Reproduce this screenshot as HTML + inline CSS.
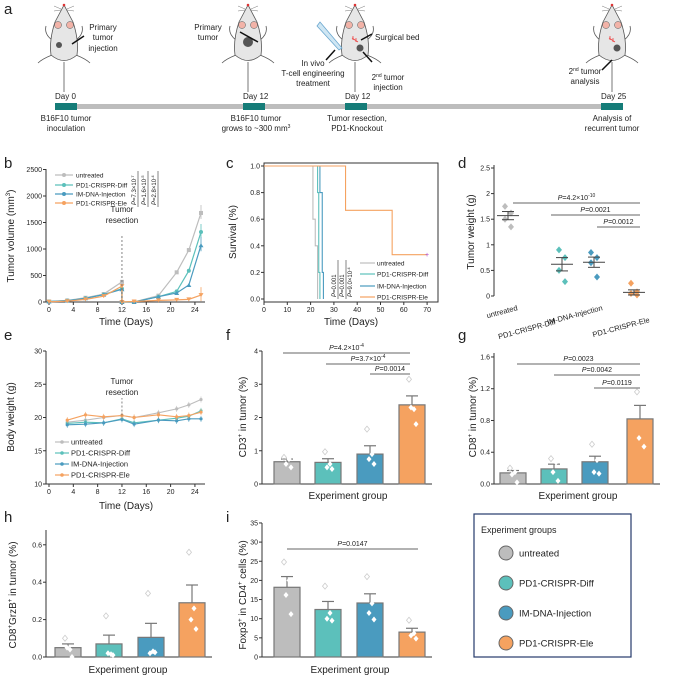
<!DOCTYPE html>
<html><head><meta charset="utf-8"><style>
body{margin:0;background:#fff}
svg{display:block;font-family:"Liberation Sans",sans-serif}
</style></head><body>
<svg id="s" width="674" height="677" viewBox="0 0 674 677" xmlns="http://www.w3.org/2000/svg"></svg>
<script>
const S=document.getElementById('s');let h='';
const C={u:'#bdbdbd',d:'#5cc0bb',i:'#4a9bbf',e:'#f5a260'};
function t(x,y,s,o={}){h+=`<text x="${x}" y="${y}" font-size="${o.fs||8}" fill="${o.c||'#222'}" text-anchor="${o.a||'start'}" ${o.r!=null?`transform="rotate(${o.r} ${x} ${y})"`:''} ${o.st||''}>${s}</text>`;}
function l(x1,y1,x2,y2,c='#333',w=1,ex=''){h+=`<line x1="${x1}" y1="${y1}" x2="${x2}" y2="${y2}" stroke="${c}" stroke-width="${w}" ${ex}/>`;}
function r(x,y,w,hh,f,ex=''){h+=`<rect x="${x}" y="${y}" width="${w}" height="${hh}" fill="${f}" ${ex}/>`;}
function pl(pts,c,w=1.2,ex=''){h+=`<polyline points="${pts.map(p=>p.join(',')).join(' ')}" fill="none" stroke="${c}" stroke-width="${w}" ${ex}/>`;}
function lab(x,y,s){t(x,y,s,{fs:15});}
// ---- panel a
lab(4,14,'a');
function mouse(cx,tum,scar){
 h+=`<g stroke="#555" stroke-width="0.8" fill="#e6e6e6">`;
 h+=`<path d="M${cx-12},40 q-8,-6 -6,-14 M${cx+12},40 q8,-6 6,-14 M${cx-12},55 q-10,4 -14,8 M${cx+12},55 q10,4 14,8" fill="none"/>`;
 h+=`<path d="M${cx},5 L${cx-9},22 Q${cx-15},40 ${cx-13},55 Q${cx},66 ${cx+13},55 Q${cx+15},40 ${cx+9},22 Z"/>`;
 h+=`<path d="M${cx},62 L${cx},92" fill="none"/></g>`;
 h+=`<circle cx="${cx-6}" cy="25" r="3.5" fill="#f2b3a8" stroke="#555" stroke-width=".5"/><circle cx="${cx+6}" cy="25" r="3.5" fill="#f2b3a8" stroke="#555" stroke-width=".5"/><circle cx="${cx}" cy="5" r="1.3" fill="#d33"/>`;
 h+=`<path d="M${cx-3},9 l-7,-3 M${cx-3},10 l-7,1 M${cx+3},9 l7,-3 M${cx+3},10 l7,1" stroke="#777" stroke-width=".5"/>`;
 if(tum)h+=`<circle cx="${cx+tum[0]}" cy="${tum[1]}" r="${tum[2]}" fill="#555"/>`;
 if(scar)h+=`<path d="M${cx-3},38 l6,4 M${cx-2},36 l0,4 M${cx+1},38 l0,4" stroke="#e44" stroke-width=".8"/>`;
}
mouse(64,[-5,45,3]);mouse(248,[0,42,5]);mouse(355,[5,48,3.5],1);mouse(612,[5,48,3.5],1);
l(72,44,84,36,'#111',1.5);l(258,42,240,32,'#111',1.5);l(361,40,372,34,'#111',1.5);l(363,52,372,62,'#111',1.5);l(335,50,326,60,'#111',1.5);l(612,60,602,70,'#111',1.5);
h+=`<path d="M320,22 L342,48 L339,50 L317,26 Z" fill="#cfe6f3" stroke="#6aa7cf" stroke-width=".8"/>`;
const A={fs:8,a:'middle'};
t(103,30,'Primary',A);t(103,40,'tumor',A);t(103,51,'injection',A);
t(208,30,'Primary',A);t(208,40,'tumor',A);
t(375,40,'Surgical bed');
t(313,66,'In vivo',A);t(313,76,'T-cell engineering',A);t(313,86,'treatment',A);
t(388,80,'2<tspan font-size="5" dy="-3">nd</tspan><tspan dy="3"> tumor</tspan>',A);t(388,90,'injection',A);
t(585,74,'2<tspan font-size="5" dy="-3">nd</tspan><tspan dy="3"> tumor</tspan>',A);t(585,84,'analysis',A);
r(55,104,568,5,'#bdbdbd');[55,243,345,601].forEach(x=>r(x,103,22,7,'#157c78'));
t(55,99,'Day 0');t(243,99,'Day 12');t(345,99,'Day 12');t(601,99,'Day 25');
t(66,121,'B16F10 tumor',A);t(66,131,'inoculation',A);
t(256,121,'B16F10 tumor',A);t(256,131,'grows to ~300 mm<tspan font-size="5" dy="-3">3</tspan>',A);
t(357,121,'Tumor resection,',A);t(357,131,'PD1-Knockout',A);
t(612,121,'Analysis of',A);t(612,131,'recurrent tumor',A);
function yaxis(x,y0,y1,ticks,fy,fs=7){l(x,y0,x,y1);ticks.forEach(v=>{const y=fy(v);l(x-3,y,x,y);t(x-4,y+2.5,v,{fs:fs,a:'end'});});}
// ---- panel b
lab(4,168,'b');
const bx=d=>49+d*6.08,by=v=>302-v*0.053;
yaxis(46,169,302,[0,500,1000,1500,2000,2500],by);l(46,302,205,302);
[0,4,8,12,16,20,24].forEach(d=>{l(bx(d),302,bx(d),305);t(bx(d),312,d,{fs:7,a:'middle'});});
t(126,325,'Time (Days)',{fs:10,a:'middle'});
t(14,236,'Tumor volume (mm<tspan font-size="6" dy="-4">3</tspan><tspan dy="4">)</tspan>',{fs:10,a:'middle',r:-90});
const pre=[0,3,6,9,12],post=[14,18,21,23,25];
const B={u:[[10,30,80,150,380],[0,120,560,980,1680]],d:[[10,25,70,140,250],[0,100,200,590,1320]],i:[[10,25,70,140,240],[0,100,170,320,1070]],e:[[5,15,50,110,300],[10,30,40,50,130]]};
for(const k in B){const a=pre.map((d,j)=>[bx(d),by(B[k][0][j])]);a.push([bx(12),by(0)]);pl(a,C[k]);
 const b2=post.map((d,j)=>[bx(d),by(B[k][1][j])]);b2.unshift([bx(12),302]);pl(b2,C[k]);
 b2.concat(a).forEach(p=>{if(k=='e')h+=`<path d="M${p[0]-2.5},${p[1]-2} h5 l-2.5,4z" fill="${C[k]}"/>`;else if(k=='i')h+=`<path d="M${p[0]-2.5},${p[1]+2} h5 l-2.5,-4z" fill="${C[k]}"/>`;else if(k=='d')h+=`<circle cx="${p[0]}" cy="${p[1]}" r="2" fill="${C[k]}"/>`;else r(p[0]-2,p[1]-2,4,4,C[k]);});
 const last=b2[b2.length-1];l(last[0],last[1]-8,last[0],last[1]+6,C[k],.8);}
l(bx(12),302,bx(12),236,'#666',.8,'stroke-dasharray="2,2"');
t(bx(12),212,'Tumor',{fs:8,a:'middle'});t(bx(12),223,'resection',{fs:8,a:'middle'});
[['untreated','u',175],['PD1-CRISPR-Diff','d',185],['IM-DNA-Injection','i',194],['PD1-CRISPR-Ele','e',203]].forEach(([n,k,y])=>{l(55,y,73,y,C[k],1.2);h+=`<circle cx="64" cy="${y}" r="2" fill="${C[k]}"/>`;t(76,y+2.5,n,{fs:6.5});});
t(136,205,'<tspan font-style="italic">P</tspan>=7.3×10<tspan font-size="4" dy="-2">-7</tspan>',{fs:6,r:-90});l(138,207,138,171,'#333',.6);
t(146,205,'<tspan font-style="italic">P</tspan>=1.6×10<tspan font-size="4" dy="-2">-5</tspan>',{fs:6,r:-90});l(148,207,148,171,'#333',.6);
t(156,205,'<tspan font-style="italic">P</tspan>=2.8×10<tspan font-size="4" dy="-2">-4</tspan>',{fs:6,r:-90});l(158,207,158,171,'#333',.6);
// ---- panel c
lab(226,168,'c');
const cx_=d=>264+d*2.33,cy_=v=>299-v*133;
h+=`<rect x="264" y="163" width="174" height="139" fill="none" stroke="#333" stroke-width="1"/>`;
[0,0.2,0.4,0.6,0.8,1.0].forEach(v=>{l(261,cy_(v),264,cy_(v));t(260,cy_(v)+2.5,v.toFixed(1),{fs:7,a:'end'});});
[0,10,20,30,40,50,60,70].forEach(d=>{l(cx_(d),302,cx_(d),305);t(cx_(d),312,d,{fs:7,a:'middle'});});
t(351,325,'Time (Days)',{fs:10,a:'middle'});t(236,232,'Survival (%)',{fs:10,a:'middle',r:-90});
function step(ar,c){const p=[];let v=1;p.push([cx_(0),cy_(1)]);ar.forEach(([d,nv])=>{p.push([cx_(d),cy_(v)]);p.push([cx_(d),cy_(nv)]);v=nv;});pl(p,c,1.1);}
step([[21,0.6],[22,0.4],[23,0]],C.u);step([[23,0.8],[23.5,0.2],[24,0]],C.d);step([[24,0.8],[25,0.2],[25.5,0]],C.i);
step([[35,0.667],[55,0.333],[70,0.333]],C.e);t(cx_(70),cy_(.333)+2.5,'+',{fs:7,c:'#a4c',a:'middle'});
[['untreated','u',263],['PD1-CRISPR-Diff','d',274],['IM-DNA-Injection','i',286],['PD1-CRISPR-Ele','e',297]].forEach(([n,k,y])=>{l(360,y,375,y,C[k],1.2);t(377,y+2.5,n,{fs:6.5});});
t(336,297,'<tspan font-style="italic">P</tspan>=0.001',{fs:6,r:-90});l(338,299,338,260,'#333',.6);
t(344,297,'<tspan font-style="italic">P</tspan>=0.001',{fs:6,r:-90});l(346,299,346,260,'#333',.6);
t(352,297,'<tspan font-style="italic">P</tspan>=9.0×10<tspan font-size="4" dy="-2">-4</tspan>',{fs:6,r:-90});
// ---- panel d
lab(458,168,'d');
const dy=v=>296-v*51.2;yaxis(494,165,296,[0,0.5,1,1.5,2,2.5],dy);
t(474,232,'Tumor weight (g)',{fs:10,a:'middle',r:-90});
const D=[[508,'u',[1.75,1.62,1.5,1.35],1.57,.08],[562,'d',[.9,.75,.5,.28],.62,.13],[594,'i',[.85,.75,.65,.37],.66,.1],[634,'e',[.25,.08,.05,.02],.07,.05]];
D.forEach(([x,k,pts,m,se])=>{pts.forEach((v,j)=>{const px=x+(j%2?3:-3);h+=`<path d="M${px},${dy(v)-3.5} l3,3.5 l-3,3.5 l-3,-3.5z" fill="${C[k]}"/>`;});l(x-11,dy(m),x+11,dy(m),'#444',1);l(x,dy(m-se),x,dy(m+se),'#444',1);l(x-6,dy(m-se),x+6,dy(m-se),'#444',1);l(x-6,dy(m+se),x+6,dy(m+se),'#444',1);});
function pv(x1,x2,y,s){l(x1,y,x2,y,'#333',.8);t((x1+x2)/2,y-3,'<tspan font-style="italic">P</tspan>='+s,{fs:7,a:'middle'});}
pv(513,640,203,'4.2×10<tspan font-size="5" dy="-3">-10</tspan>');pv(551,640,215,'0.0021');pv(597,640,227,'0.0012');
[['untreated',518,310],['PD1-CRISPR-Diff',556,324],['IM-DNA-Injection',603,310],['PD1-CRISPR-Ele',650,322]].forEach(([n,x,y])=>t(x,y,n,{fs:7.5,a:'end',r:-15}));
function bars(cs,vals,errs,fy,pts,w=26){cs.forEach((x,j)=>{const k='udie'[j];const y=fy(vals[j]);r(x-w/2,y,w,fy(0)-y,C[k],'stroke="#777" stroke-width="1.2"');l(x,y,x,fy(errs[j]),'#777',1.2);l(x-6,fy(errs[j]),x+6,fy(errs[j]),'#777',1.2);
 pts[j].forEach((v,q)=>{const px=x+[-3,2,-1,4][q];const hol=q==0;h+=`<path d="M${px},${fy(v)-3} l2.5,3 l-2.5,3 l-2.5,-3z" fill="${hol?'none':'#fff'}" stroke="${hol?'#ccc':'none'}" stroke-width=".8"/>`;});});}
// ---- panel e
lab(4,340,'e');
const ex=d=>49+d*6.08,ey=v=>484-(v-10)*6.65;
yaxis(46,351,484,[10,15,20,25,30],ey);l(46,484,205,484);
[0,4,8,12,16,20,24].forEach(d=>{l(ex(d),484,ex(d),487);t(ex(d),494,d,{fs:7,a:'middle'});});
t(126,509,'Time (Days)',{fs:10,a:'middle'});t(14,417,'Body weight (g)',{fs:10,a:'middle',r:-90});
const ed=[3,6,9,12,14,18,21,23,25];
const E={u:[19.3,19.6,20,20.3,20,20.7,21.3,21.9,22.7],d:[19.1,19.3,19.2,19.8,19.2,19.6,19.9,20.2,21],i:[18.9,19,19.2,19.7,19,19.6,19.5,19.8,19.8],e:[19.6,20.4,20.1,20.3,20,20.4,20.1,20.3,20.8]};
for(const k in E){const p=ed.map((d,j)=>[ex(d),ey(E[k][j])]);pl(p,C[k],1.1);p.forEach(q=>{h+=`<circle cx="${q[0]}" cy="${q[1]}" r="1.6" fill="${C[k]}"/>`;l(q[0],q[1]-3,q[0],q[1]+3,C[k],.6);});}
l(ex(12),ey(20.3),ex(12),398,'#666',.8,'stroke-dasharray="2,2"');
t(ex(12),384,'Tumor',{fs:8,a:'middle'});t(ex(12),395,'resection',{fs:8,a:'middle'});
[['untreated','u',442],['PD1-CRISPR-Diff','d',453],['IM-DNA-Injection','i',464],['PD1-CRISPR-Ele','e',475]].forEach(([n,k,y])=>{l(55,y,69,y,C[k],1.2);h+=`<circle cx="62" cy="${y}" r="1.8" fill="${C[k]}"/>`;t(71,y+2.5,n,{fs:7.5});});
// ---- panel f
lab(226,340,'f');
const fy=v=>484-v*33.25;yaxis(262,351,484,[0,1,2,3,4],fy);l(262,484,432,484);
t(246,417,'CD3<tspan font-size="6" dy="-4">+</tspan><tspan dy="4"> in tumor (%)</tspan>',{fs:10,a:'middle',r:-90});
bars([287,328,370,412],[.67,.65,.9,2.38],[.75,.76,1.15,2.65],fy,[[.8,.75,.6,.5],[.97,.6,.5,.45],[1.65,.9,.75,.6],[3.15,2.25,2.3,1.8]]);
t(348,499,'Experiment group',{fs:10,a:'middle'});
pv(283,410,353,'4.2×10<tspan font-size="5" dy="-3">-4</tspan>');pv(326,410,364,'3.7×10<tspan font-size="5" dy="-3">-4</tspan>');pv(370,410,374,'0.0014');
// ---- panel g
lab(458,340,'g');
const gy=v=>484-v*79.4;yaxis(494,353,484,[0,0.4,0.8,1.2,1.6].map(v=>v.toFixed(1)),v=>gy(+v));l(494,484,660,484);
t(476,417,'CD8<tspan font-size="6" dy="-4">+</tspan><tspan dy="4"> in tumor (%)</tspan>',{fs:10,a:'middle',r:-90});
bars([513,554,595,640],[.14,.19,.28,.82],[.17,.25,.35,.99],gy,[[.2,.15,.12,.02],[.32,.27,.15,.04],[.5,.3,.15,.13],[1.16,1.06,.58,.47]]);
t(578,499,'Experiment group',{fs:10,a:'middle'});
pv(517,640,364,'0.0023');pv(554,640,375,'0.0042');pv(594,640,388,'0.0119');
// ---- panel h
lab(4,522,'h');
const hy=v=>657-v*187;yaxis(46,530,657,['0.0','0.2','0.4','0.6'],v=>hy(+v));l(46,657,212,657);
t(16,595,'CD8<tspan font-size="6" dy="-4">+</tspan><tspan dy="4">GrzB</tspan><tspan font-size="6" dy="-4">+</tspan><tspan dy="4"> in tumor (%)</tspan>',{fs:10,a:'middle',r:-90});
bars([68,109,151,192],[.05,.07,.105,.29],[.07,.117,.18,.385],hy,[[.1,.04,.05,0],[.22,.015,.02,.01],[.34,.03,.02,.025],[.56,.26,.2,.15]]);
t(128,673,'Experiment group',{fs:10,a:'middle'});
// ---- panel i
lab(226,522,'i');
const iy=v=>657-v*3.83;yaxis(262,523,657,[0,5,10,15,20,25,30,35],iy);l(262,657,432,657);
t(246,595,'Foxp3<tspan font-size="6" dy="-4">+</tspan><tspan dy="4"> in CD4</tspan><tspan font-size="6" dy="-4">+</tspan><tspan dy="4"> cells (%)</tspan>',{fs:10,a:'middle',r:-90});
bars([287,328,370,412],[18.2,12.4,14.1,6.5],[21,14.5,16.5,7.5],iy,[[24.8,20,16.2,11.2],[18.5,11.5,10,9.5],[21,14,11.5,9.8],[9.6,6.2,5.6,4.8]]);
t(350,673,'Experiment group',{fs:10,a:'middle'});
pv(287,418,549,'0.0147');
// ---- legend box
h+=`<rect x="474" y="514" width="157" height="143" fill="none" stroke="#243a6b" stroke-width="1.2"/>`;
t(481,533,'Experiment groups',{fs:9});
[['untreated','u',553],['PD1-CRISPR-Diff','d',583],['IM-DNA-Injection','i',613],['PD1-CRISPR-Ele','e',643]].forEach(([n,k,y])=>{h+=`<circle cx="506" cy="${y}" r="7" fill="${C[k]}" stroke="#666" stroke-width="1"/>`;t(519,y+3.5,n,{fs:9.5});});
S.innerHTML=h;
</script>
</body></html>
